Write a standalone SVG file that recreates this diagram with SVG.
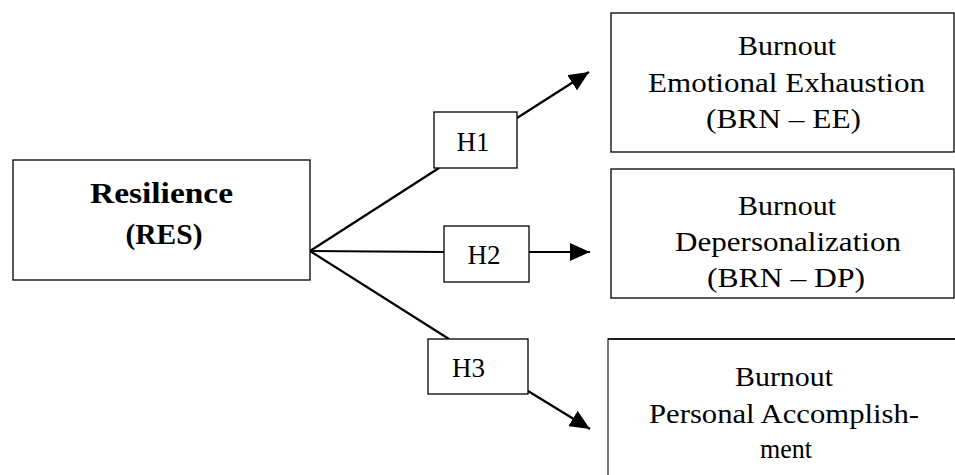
<svg xmlns="http://www.w3.org/2000/svg" width="955" height="475" viewBox="0 0 955 475">
<style>
.box{fill:#fff;stroke:#000;stroke-width:1.3}
.hbox{fill:#fff;stroke:#000;stroke-width:1.3}
.t{font-family:"Liberation Serif","Times New Roman",serif;font-size:27px;fill:#000;text-anchor:middle}
.b{font-weight:bold;font-size:29px}
.c{stroke:#000;stroke-width:2.2;fill:none}
</style>
<defs>
<marker id="ah" markerUnits="userSpaceOnUse" markerWidth="22" markerHeight="18" refX="20" refY="9" orient="auto">
<path d="M0,0 L20,9 L0,18 Z" fill="#000"/>
</marker>
</defs>
<g id="connectors">
<line class="c" x1="310" y1="251" x2="439" y2="168"/>
<line class="c" x1="310" y1="251" x2="444" y2="252"/>
<line class="c" x1="310" y1="251" x2="449" y2="339"/>
<line class="c" x1="517" y1="118" x2="589" y2="72" marker-end="url(#ah)"/>
<line class="c" x1="529" y1="252" x2="590" y2="252" marker-end="url(#ah)"/>
<line class="c" x1="528" y1="391" x2="590" y2="429" marker-end="url(#ah)"/>
</g>
<g id="res">
<rect class="box" x="13" y="160" width="297" height="120"/>
<text class="t b" x="161.5" y="203" textLength="143" lengthAdjust="spacingAndGlyphs">Resilience</text>
<text class="t b" x="164" y="244" textLength="77" lengthAdjust="spacingAndGlyphs">(RES)</text>
</g>
<g id="h1">
<rect class="hbox" x="434" y="112" width="83" height="56"/>
<text class="t" x="473" y="151">H1</text>
</g>
<g id="h2">
<rect class="hbox" x="444" y="226" width="85" height="56"/>
<text class="t" x="484" y="264">H2</text>
</g>
<g id="h3">
<rect class="hbox" x="428" y="339" width="100" height="55"/>
<text class="t" x="468.5" y="377">H3</text>
</g>
<g id="ee">
<rect class="box" x="611" y="13" width="343" height="139"/>
<text class="t" x="787" y="55" textLength="98" lengthAdjust="spacingAndGlyphs">Burnout</text>
<text class="t" x="786.5" y="92" textLength="277" lengthAdjust="spacingAndGlyphs">Emotional Exhaustion</text>
<text class="t" x="783.5" y="128" textLength="155" lengthAdjust="spacingAndGlyphs">(BRN – EE)</text>
</g>
<g id="dp">
<rect class="box" x="611" y="169" width="343" height="129"/>
<text class="t" x="787" y="215" textLength="98" lengthAdjust="spacingAndGlyphs">Burnout</text>
<text class="t" x="788" y="251" textLength="226" lengthAdjust="spacingAndGlyphs">Depersonalization</text>
<text class="t" x="786" y="287" textLength="158" lengthAdjust="spacingAndGlyphs">(BRN – DP)</text>
</g>
<g id="pa">
<rect class="box" x="608" y="339" width="360" height="150" style="stroke:#555;stroke-width:1.6"/>
<line x1="608" y1="339" x2="955" y2="339" stroke="#000" stroke-width="1.3"/>
<text class="t" x="784" y="386" textLength="98" lengthAdjust="spacingAndGlyphs">Burnout</text>
<text class="t" x="784" y="423" textLength="270" lengthAdjust="spacingAndGlyphs">Personal Accomplish-</text>
<text class="t" x="786" y="458" textLength="52" lengthAdjust="spacingAndGlyphs">ment</text>
</g>
</svg>
